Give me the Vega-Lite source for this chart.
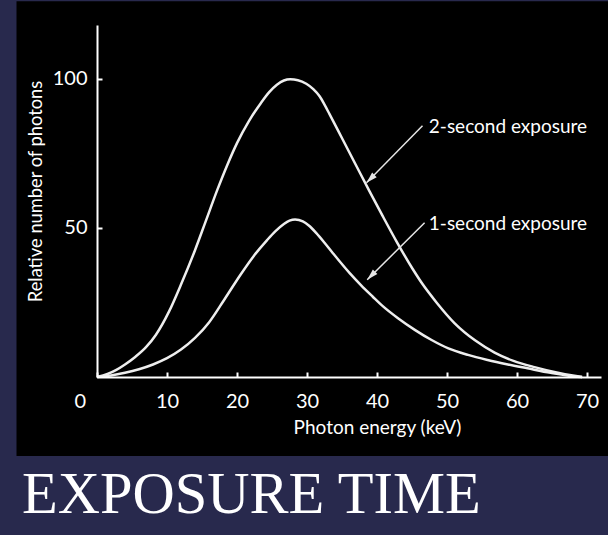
{
  "$schema": "https://vega.github.io/schema/vega-lite/v6.json",
  "width": 504,
  "height": 352,
  "autosize": {"type": "none"},
  "padding": {"left": 97, "top": 25, "right": 7, "bottom": 158},
  "background": "#28294d",
  "config": {"view": {"stroke": null}, "font": "Lato"},
  "title": {
    "text": "EXPOSURE TIME",
    "orient": "bottom",
    "anchor": "start",
    "frame": "group",
    "font": "Liberation Serif",
    "fontSize": 58.5,
    "fontWeight": "normal",
    "color": "white",
    "dx": -75,
    "offset": 11,
    "baseline": "top"
  },
  "datasets": {
    "panel": [{"x0": -11.5, "x1": 75, "y0": -26.5, "y1": 126}],
    "curves": [
      {"series": "2-second exposure", "energy": 0, "photons": 0},
      {"series": "2-second exposure", "energy": 1.5, "photons": 1.0},
      {"series": "2-second exposure", "energy": 2.7, "photons": 2.3},
      {"series": "2-second exposure", "energy": 4, "photons": 4.2},
      {"series": "2-second exposure", "energy": 5.5, "photons": 6.8},
      {"series": "2-second exposure", "energy": 7, "photons": 10},
      {"series": "2-second exposure", "energy": 8.4, "photons": 14.1},
      {"series": "2-second exposure", "energy": 10.3, "photons": 22},
      {"series": "2-second exposure", "energy": 12, "photons": 31},
      {"series": "2-second exposure", "energy": 14, "photons": 42.5},
      {"series": "2-second exposure", "energy": 15.5, "photons": 52},
      {"series": "2-second exposure", "energy": 17.2, "photons": 62.8},
      {"series": "2-second exposure", "energy": 18.6, "photons": 71},
      {"series": "2-second exposure", "energy": 20, "photons": 78.4},
      {"series": "2-second exposure", "energy": 21.7, "photons": 85.8},
      {"series": "2-second exposure", "energy": 23.4, "photons": 91.8},
      {"series": "2-second exposure", "energy": 24.6, "photons": 95.5},
      {"series": "2-second exposure", "energy": 25.7, "photons": 98},
      {"series": "2-second exposure", "energy": 26.7, "photons": 99.4},
      {"series": "2-second exposure", "energy": 27.6, "photons": 99.8},
      {"series": "2-second exposure", "energy": 28.7, "photons": 99.5},
      {"series": "2-second exposure", "energy": 29.9, "photons": 98.3},
      {"series": "2-second exposure", "energy": 30.9, "photons": 96.5},
      {"series": "2-second exposure", "energy": 31.8, "photons": 94.1},
      {"series": "2-second exposure", "energy": 32.5, "photons": 91.3},
      {"series": "2-second exposure", "energy": 33.2, "photons": 88.2},
      {"series": "2-second exposure", "energy": 35.1, "photons": 79.6},
      {"series": "2-second exposure", "energy": 37, "photons": 71},
      {"series": "2-second exposure", "energy": 38.9, "photons": 62.4},
      {"series": "2-second exposure", "energy": 40.8, "photons": 54},
      {"series": "2-second exposure", "energy": 42.8, "photons": 45.4},
      {"series": "2-second exposure", "energy": 45.1, "photons": 36.2},
      {"series": "2-second exposure", "energy": 46.4, "photons": 31.5},
      {"series": "2-second exposure", "energy": 48.5, "photons": 25},
      {"series": "2-second exposure", "energy": 51.1, "photons": 18},
      {"series": "2-second exposure", "energy": 54, "photons": 12.3},
      {"series": "2-second exposure", "energy": 56.8, "photons": 8.2},
      {"series": "2-second exposure", "energy": 59.5, "photons": 5.4},
      {"series": "2-second exposure", "energy": 62.5, "photons": 3.3},
      {"series": "2-second exposure", "energy": 65.5, "photons": 1.6},
      {"series": "2-second exposure", "energy": 68.2, "photons": 0.4},
      {"series": "2-second exposure", "energy": 69.3, "photons": 0},
      {"series": "1-second exposure", "energy": 0, "photons": 0},
      {"series": "1-second exposure", "energy": 2, "photons": 0.5},
      {"series": "1-second exposure", "energy": 4, "photons": 1.4},
      {"series": "1-second exposure", "energy": 6, "photons": 2.6},
      {"series": "1-second exposure", "energy": 8, "photons": 4.2},
      {"series": "1-second exposure", "energy": 10, "photons": 6.3},
      {"series": "1-second exposure", "energy": 12, "photons": 9.2},
      {"series": "1-second exposure", "energy": 14, "photons": 13.1},
      {"series": "1-second exposure", "energy": 16, "photons": 18.3},
      {"series": "1-second exposure", "energy": 18.2, "photons": 26},
      {"series": "1-second exposure", "energy": 20.5, "photons": 34.3},
      {"series": "1-second exposure", "energy": 22.4, "photons": 40.6},
      {"series": "1-second exposure", "energy": 24.3, "photons": 45.9},
      {"series": "1-second exposure", "energy": 25.5, "photons": 48.9},
      {"series": "1-second exposure", "energy": 26.7, "photons": 51.3},
      {"series": "1-second exposure", "energy": 27.5, "photons": 52.4},
      {"series": "1-second exposure", "energy": 28.3, "photons": 52.8},
      {"series": "1-second exposure", "energy": 29.4, "photons": 52.2},
      {"series": "1-second exposure", "energy": 30.3, "photons": 50.7},
      {"series": "1-second exposure", "energy": 31.3, "photons": 48.3},
      {"series": "1-second exposure", "energy": 32.5, "photons": 45},
      {"series": "1-second exposure", "energy": 33.7, "photons": 41.5},
      {"series": "1-second exposure", "energy": 36.1, "photons": 34.8},
      {"series": "1-second exposure", "energy": 37.7, "photons": 30.8},
      {"series": "1-second exposure", "energy": 39.4, "photons": 26.9},
      {"series": "1-second exposure", "energy": 40.7, "photons": 24},
      {"series": "1-second exposure", "energy": 43, "photons": 19.7},
      {"series": "1-second exposure", "energy": 45.4, "photons": 15.8},
      {"series": "1-second exposure", "energy": 47.8, "photons": 12.4},
      {"series": "1-second exposure", "energy": 50.2, "photons": 9.6},
      {"series": "1-second exposure", "energy": 53, "photons": 7.4},
      {"series": "1-second exposure", "energy": 55.8, "photons": 5.7},
      {"series": "1-second exposure", "energy": 58.7, "photons": 4.2},
      {"series": "1-second exposure", "energy": 61.5, "photons": 2.9},
      {"series": "1-second exposure", "energy": 64.8, "photons": 1.4},
      {"series": "1-second exposure", "energy": 68.2, "photons": 0.2},
      {"series": "1-second exposure", "energy": 69.3, "photons": 0}
    ],
    "labels": [
      {"energy": 47.4, "photons": 81.9, "text": "2-second exposure", "tipEnergy": 38.5, "tipPhotons": 65.1, "startEnergy": 46.5, "startPhotons": 84.2},
      {"energy": 47.4, "photons": 49.3, "text": "1-second exposure", "tipEnergy": 38.6, "tipPhotons": 32.6, "startEnergy": 46.8, "startPhotons": 51.7}
    ]
  },
  "layer": [
    {
      "data": {"name": "panel"},
      "mark": {"type": "rect", "color": "black"},
      "encoding": {
        "x": {
          "field": "x0", "type": "quantitative", "title": "Photon energy (keV)",
          "scale": {"domain": [0, 72], "nice": false, "zero": false},
          "axis": {
            "zindex": 1,
            "values": [0, 10, 20, 30, 40, 50, 60, 70],
            "format": "d",
            "grid": false,
            "domainColor": "white", "domainWidth": 2,
            "tickColor": "white", "tickWidth": 2, "tickSize": -5,
            "labelColor": "white", "labelFontSize": 20, "labelPadding": 19,
            "labelOffset": {"expr": "datum.value == 0 ? -23 : 0"},
            "titleColor": "white", "titleFontSize": 19, "titleFontWeight": "normal",
            "titleX": 280, "titleY": 56, "titleBaseline": "alphabetic", "titleAlign": "center"
          }
        },
        "x2": {"field": "x1"},
        "y": {
          "field": "y0", "type": "quantitative", "title": "Relative number of photons",
          "scale": {"domain": [0, 118], "nice": false, "zero": false},
          "axis": {
            "zindex": 1,
            "values": [50, 100],
            "grid": false,
            "domainColor": "white", "domainWidth": 2,
            "tickColor": "white", "tickWidth": 2, "tickSize": -5,
            "labelColor": "white", "labelFontSize": 20, "labelPadding": 15,
            "titleColor": "white", "titleFontSize": 18.3, "titleFontWeight": "normal",
            "titleX": -61, "titleY": 166, "titleBaseline": "middle", "titleAlign": "center", "titleAngle": -90
          }
        },
        "y2": {"field": "y1"}
      }
    },
    {
      "data": {"name": "curves"},
      "mark": {"type": "line", "interpolate": "monotone", "color": "#eeeeee", "strokeWidth": 2.5},
      "encoding": {
        "x": {"field": "energy", "type": "quantitative", "title": "Photon energy (keV)", "scale": {"domain": [0, 72], "nice": false, "zero": false}},
        "y": {"field": "photons", "type": "quantitative", "title": "Relative number of photons", "scale": {"domain": [0, 118], "nice": false, "zero": false}},
        "detail": {"field": "series"}
      }
    },
    {
      "data": {"name": "labels"},
      "mark": {"type": "rule", "color": "#e6e6e6", "strokeWidth": 1.5},
      "encoding": {
        "x": {"field": "startEnergy", "type": "quantitative", "title": "Photon energy (keV)", "scale": {"domain": [0, 72], "nice": false, "zero": false}},
        "y": {"field": "startPhotons", "type": "quantitative", "title": "Relative number of photons", "scale": {"domain": [0, 118], "nice": false, "zero": false}},
        "x2": {"field": "tipEnergy"},
        "y2": {"field": "tipPhotons"}
      }
    },
    {
      "data": {"name": "labels"},
      "mark": {"type": "point", "shape": "M0,0L0.8,2.8L-0.8,2.8Z", "filled": true, "color": "#e6e6e6", "opacity": 1, "size": 64, "angle": 225},
      "encoding": {
        "x": {"field": "tipEnergy", "type": "quantitative", "title": "Photon energy (keV)", "scale": {"domain": [0, 72], "nice": false, "zero": false}},
        "y": {"field": "tipPhotons", "type": "quantitative", "title": "Relative number of photons", "scale": {"domain": [0, 118], "nice": false, "zero": false}}
      }
    },
    {
      "data": {"name": "labels"},
      "mark": {"type": "text", "align": "left", "baseline": "alphabetic", "color": "white", "fontSize": 19, "font": "Lato"},
      "encoding": {
        "x": {"field": "energy", "type": "quantitative", "title": "Photon energy (keV)", "scale": {"domain": [0, 72], "nice": false, "zero": false}},
        "y": {"field": "photons", "type": "quantitative", "title": "Relative number of photons", "scale": {"domain": [0, 118], "nice": false, "zero": false}},
        "text": {"field": "text"}
      }
    }
  ]
}
